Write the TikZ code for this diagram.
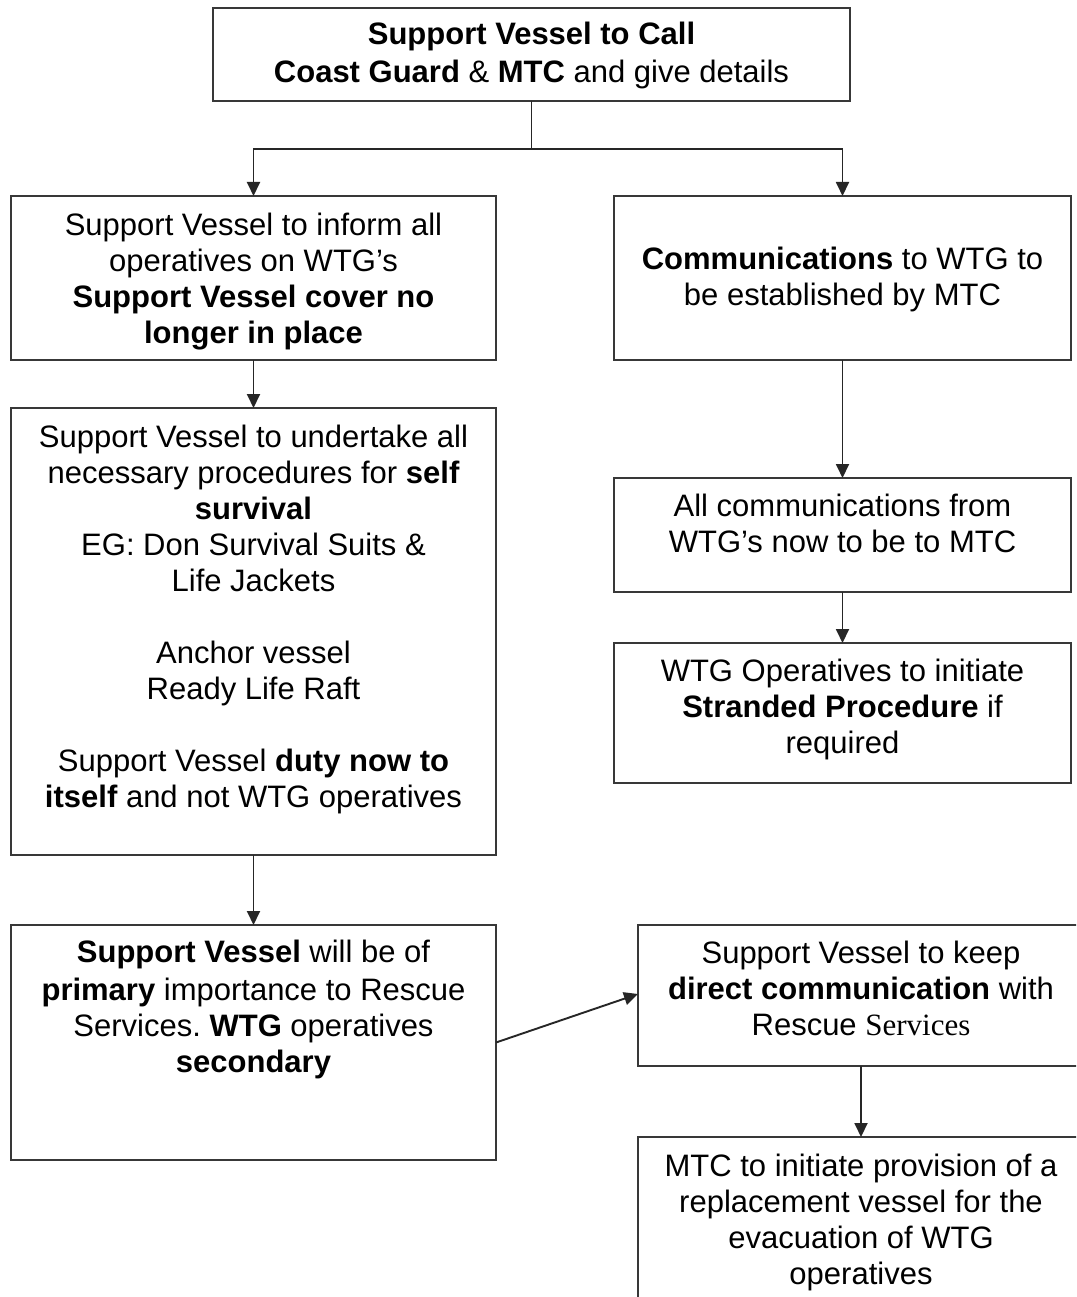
\documentclass[tikz,border=0pt]{standalone}
\usepackage{fontspec}
\setmainfont{Liberation Sans}
\newfontfamily\serifsvc{Liberation Serif}
\usetikzlibrary{arrows.meta}
\frenchspacing
\newcommand\bxt[4]{\parbox[c][#2pt][t]{#1pt}{\fontsize{31}{36}\selectfont\frenchspacing\centering\rule{0pt}{#3pt}#4\par}}
\tikzset{
  box/.style={draw=black!78, line width=1.9pt, inner sep=0pt, outer sep=0pt, anchor=north west, fill=white},
  conn/.style={draw=black!85, line width=1.9pt},
  arr/.style={conn, -{Triangle[length=14pt,width=13pt]}}
}
\begin{document}
\begin{tikzpicture}[x=1pt,y=-1pt]
\useasboundingbox (0,0) rectangle (1076,1297);
\clip (0,0) rectangle (1076,1297);
\fill[white] (0,0) rectangle (1076,1297);

\node[box] (top) at (213,8) {\bxt{637}{93}{37}{\textbf{Support Vessel to Call}\\[2pt] \textbf{Coast Guard} \& \textbf{MTC} and give details}};

\node[box] (l1) at (11,196) {\bxt{485}{164}{39}{Support Vessel to inform all\\ operatives on WTG’s\\ \textbf{Support Vessel cover no}\\ \textbf{longer in place}}};

\node[box] (r1) at (614,196) {\bxt{457}{164}{73}{\textbf{Communications} to WTG to\\ be established by MTC}};

\node[box] (l2) at (11,408) {\bxt{485}{447}{39}{Support Vessel to undertake all\\ necessary procedures for \textbf{self}\\ \textbf{survival}\\ EG: Don Survival Suits \&\\ Life Jackets\\[36pt] Anchor vessel\\ Ready Life Raft\\[36pt] Support Vessel \textbf{duty now to}\\ \textbf{itself} and not WTG operatives}};

\node[box] (r2) at (614,478) {\bxt{457}{114}{38}{All communications from\\ WTG’s now to be to MTC}};

\node[box] (r3) at (614,643) {\bxt{457}{140}{38}{WTG Operatives to initiate\\ \textbf{Stranded Procedure} if\\ required}};

\node[box] (l3) at (11,925) {\bxt{485}{235}{37}{\textbf{Support Vessel} will be of\\[2pt] \textbf{primary} importance to Rescue\\ Services. \textbf{WTG} operatives\\ \textbf{secondary}}};

\node[box] (r4) at (638,925) {\bxt{446}{141}{38}{Support Vessel to keep\\ \textbf{direct communication} with\\ Rescue {\serifsvc Services}}};

\node[box] (r5) at (638,1137) {\bxt{446}{200}{39}{MTC to initiate provision of a\\ replacement vessel for the\\ evacuation of WTG\\ operatives}};

\path (top.south) ++(0,48) coordinate (j);
\draw[conn] (top.south) -- (j);
\draw[arr] (j) -| (l1.north);
\draw[arr] (j) -| (r1.north);
\draw[arr] (l1.south) -- (l2.north);
\draw[arr] (r1.south) -- (r2.north);
\draw[arr] (r2.south) -- (r3.north);
\draw[arr] (l2.south) -- (l3.north);
\draw[arr] (l3.east) -- ([yshift=1.5pt]r4.west);
\draw[arr] (r4.south) -- (r5.north);
\end{tikzpicture}
\end{document}
